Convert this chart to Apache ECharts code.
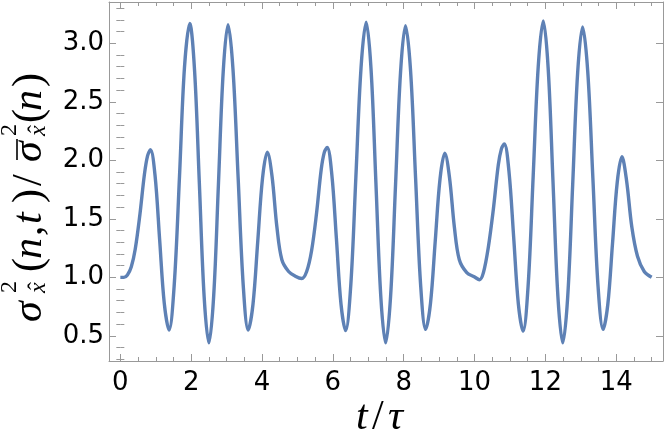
<!DOCTYPE html>
<html>
<head>
<meta charset="utf-8">
<script src="https://cdn.jsdelivr.net/npm/echarts@6/dist/echarts.min.js"></script>
<style>
html,body{margin:0;padding:0;background:#fff;}
#chart{width:664px;height:441px;}
</style>
</head>
<body>
<div id="chart"></div>
<script>
// t / tau values
const tValues = [
  0.00,0.10,0.20,0.31,0.42,0.55,0.68,0.77,0.85,
  0.98,1.11,1.24,1.375,
  1.52,1.67,1.81,1.96,
  2.095,2.23,2.365,2.50,
  2.635,2.77,2.905,3.04,
  3.18,3.325,3.47,3.61,
  3.745,3.88,4.015,4.15,
  4.28,4.42,4.56,4.75,4.94,5.12,
  5.26,5.40,5.54,5.67,5.76,5.84,
  5.97,6.10,6.23,6.36,
  6.505,6.65,6.795,6.94,
  7.0775,7.215,7.3525,7.49,
  7.63,7.77,7.91,8.05,
  8.1925,8.335,8.4775,8.62,
  8.755,8.89,9.025,9.16,
  9.29,9.43,9.57,9.78,9.99,10.14,
  10.25,10.39,10.53,10.67,10.76,10.84,
  10.97,11.105,11.2375,11.37,
  11.5125,11.655,11.7975,11.94,
  12.0775,12.215,12.3525,12.49,
  12.63,12.77,12.91,13.05,
  13.195,13.34,13.485,13.63,
  13.7625,13.895,14.0275,14.16,
  14.29,14.44,14.60,14.79,15.00
];
// sigma^2(n,t) / mean sigma^2(n)
const sigmaRatio = [
  1.00,1.00,1.02,1.09,1.24,1.53,1.88,2.04,2.09,
  1.87,1.32,0.78,0.55,
  0.93,1.86,2.79,3.17,
  2.77,1.81,0.84,0.44,
  0.84,1.80,2.76,3.16,
  2.78,1.855,0.93,0.55,
  0.77,1.31,1.85,2.07,
  1.87,1.43,1.15,1.05,1.01,0.99,
  1.05,1.23,1.55,1.92,2.07,2.11,
  1.88,1.33,0.77,0.545,
  0.93,1.86,2.79,3.18,
  2.78,1.81,0.84,0.44,
  0.84,1.795,2.75,3.15,
  2.77,1.85,0.935,0.555,
  0.775,1.31,1.84,2.06,
  1.86,1.43,1.15,1.04,1.005,0.98,
  1.04,1.26,1.58,1.96,2.10,2.14,
  1.91,1.34,0.77,0.54,
  0.93,1.865,2.80,3.19,
  2.79,1.815,0.84,0.44,
  0.835,1.79,2.745,3.14,
  2.76,1.85,0.93,0.555,
  0.77,1.29,1.81,2.03,
  1.83,1.43,1.18,1.05,1.00
];
const xMajorTicks = [0,2,4,6,8,10,12,14];
const xTickLabels = ['0','2','4','6','8','10','12','14'];
const xMinorTicks = [0.5,1,1.5,2.5,3,3.5,4.5,5,5.5,6.5,7,7.5,8.5,9,9.5,10.5,11,11.5,12.5,13,13.5,14.5,15];
const yMajorTicks = [0.5,1.0,1.5,2.0,2.5,3.0];
const yTickLabels = ['0.5','1.0','1.5','2.0','2.5','3.0'];
const yMinorTicks = [0.3,0.4,0.6,0.7,0.8,0.9,1.1,1.2,1.3,1.4,1.6,1.7,1.8,1.9,2.1,2.2,2.3,2.4,2.6,2.7,2.8,2.9,3.1,3.2,3.3];

const X_MIN = -0.32, X_MAX = 15.32, Y_MIN = 0.285, Y_MAX = 3.353;
const FRAME = '#999999';
const LABEL_FONT = '"DejaVu Sans", sans-serif';
const MATH = '"Liberation Serif", "Times New Roman", serif';

function lookup(vals, labels) {
  return function (v) {
    for (let i = 0; i < vals.length; i++) {
      if (Math.abs(vals[i] - v) < 1e-6) return labels[i];
    }
    return '';
  };
}

function axisCommon(pos, min, max) {
  return {
    type: 'value', position: pos, min: min, max: max, scale: true,
    splitLine: {show: false},
    axisLine: {show: true, onZero: false, lineStyle: {color: FRAME, width: 1}}
  };
}
function majorAxis(pos, min, max, ticks, labels, showLabel, margin) {
  const a = axisCommon(pos, min, max);
  a.axisTick = {show: true, inside: true, length: 7, customValues: ticks, lineStyle: {color: FRAME, width: 1}};
  a.axisLabel = {show: showLabel, customValues: ticks, formatter: lookup(ticks, labels),
    color: '#000', fontSize: 26, fontFamily: LABEL_FONT, margin: margin};
  return a;
}
function minorAxis(pos, min, max, ticks) {
  const a = axisCommon(pos, min, max);
  a.axisLine = {show: false};
  a.axisTick = {show: true, inside: true, length: 4, customValues: ticks, lineStyle: {color: FRAME, width: 1}};
  a.axisLabel = {show: false};
  return a;
}

// math text helper: baseline-positioned piece (local coords)
function piece(txt, u, b, size, italic) {
  return {
    type: 'text', x: u, y: b - 0.3375 * size,
    style: {
      text: txt, fill: '#000',
      font: (italic ? 'italic ' : '') + size + 'px ' + MATH,
      align: 'left', verticalAlign: 'middle', textAlign: 'left', textVerticalAlign: 'middle'
    }
  };
}

const yLabelPieces = [
  piece('σ', 0, 0, 42, true),
  piece('2', 29, -26, 24, false),
  piece('x', 29, 3, 24, true),
  piece('ˆ', 32, 2, 24, false),
  piece('(', 50, 0, 42, false),
  piece('n', 63, 0, 42, true),
  piece(',', 86, 0, 42, false),
  piece('t', 98, 0, 42, true),
  piece(')', 119, 0, 42, false),
  piece('/', 136, 0, 42, false),
  piece('σ', 160, 0, 42, true),
  {type: 'line', shape: {x1: 162, y1: -27, x2: 183, y2: -27}, style: {stroke: '#000', lineWidth: 1.6}},
  piece('2', 186, -26, 24, false),
  piece('x', 186, 3, 24, true),
  piece('ˆ', 189, 2, 24, false),
  piece('(', 199, 0, 42, false),
  piece('n', 211, 0, 42, true),
  piece(')', 235, 0, 42, false)
];
const xLabelPieces = [
  piece('t', 0, 0, 42, true),
  piece('/', 16, 0, 42, false),
  piece('τ', 32, 0, 42, true)
];

const chart = echarts.init(document.getElementById('chart'), null, {renderer: 'canvas'});
chart.setOption({
  animation: false,
  backgroundColor: '#fff',
  grid: {left: 109, right: 1, top: 2, bottom: 80, containLabel: false, outerBoundsMode: 'none'},
  xAxis: [
    majorAxis('bottom', X_MIN, X_MAX, xMajorTicks, xTickLabels, true, 9),
    minorAxis('bottom', X_MIN, X_MAX, xMinorTicks),
    majorAxis('top', X_MIN, X_MAX, xMajorTicks, xTickLabels, false, 8),
    minorAxis('top', X_MIN, X_MAX, xMinorTicks)
  ],
  yAxis: [
    majorAxis('left', Y_MIN, Y_MAX, yMajorTicks, yTickLabels, true, 5),
    minorAxis('left', Y_MIN, Y_MAX, yMinorTicks),
    majorAxis('right', Y_MIN, Y_MAX, yMajorTicks, yTickLabels, false, 8),
    minorAxis('right', Y_MIN, Y_MAX, yMinorTicks)
  ],
  series: [{
    type: 'line',
    xAxisIndex: 0, yAxisIndex: 0,
    data: tValues.map((t, i) => [t, sigmaRatio[i]]),
    showSymbol: false,
    smooth: 0.35,
    lineStyle: {color: '#5E81B5', width: 3.4},
    itemStyle: {color: '#5E81B5'},
    clip: true
  }],
  graphic: [
    {type: 'group', x: 44, y: 322, rotation: Math.PI / 2, children: yLabelPieces},
    {type: 'group', x: 356, y: 432, children: xLabelPieces}
  ]
});
</script>
</body>
</html>
